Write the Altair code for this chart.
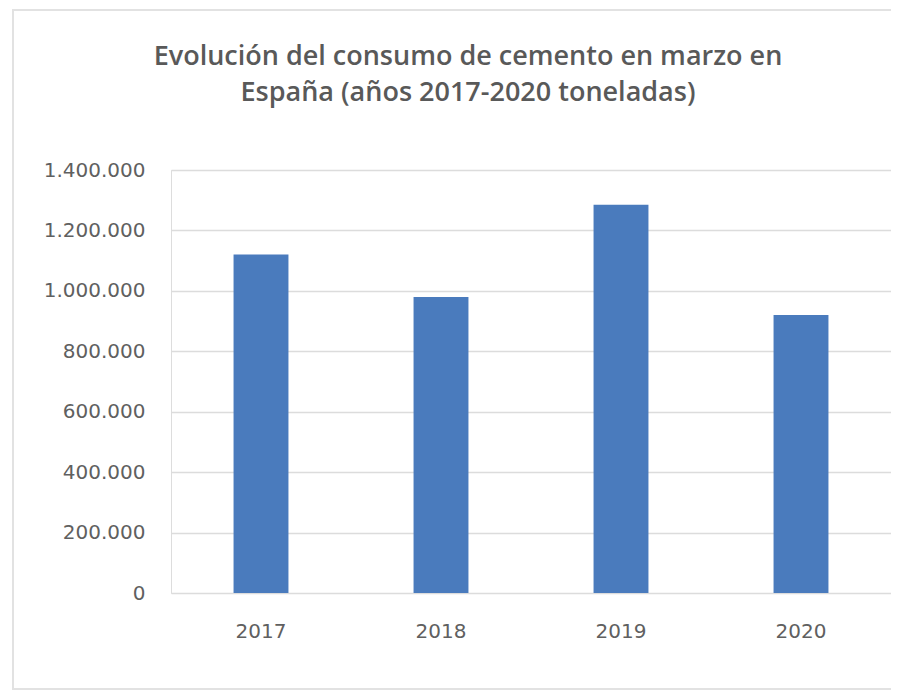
import altair as alt
import pandas as pd

years = ["2017", "2018", "2019", "2020"]
consumo = [1120000, 980000, 1285000, 920000]
y_ticks = [0, 200000, 400000, 600000, 800000, 1000000, 1200000, 1400000]
title_line1 = "Evolución del consumo de cemento en marzo en"
title_line2 = "España (años 2017-2020 toneladas)"

df = pd.DataFrame({"year": years, "value": consumo})

W, H = 720, 423

frame = alt.Chart(pd.DataFrame({"k": [0]})).mark_rect(
    fill=None, stroke="#e2e2e2", strokeWidth=2, clip=False
).encode(
    x=alt.value(-158), x2=alt.value(W + 30),
    y=alt.value(-160), y2=alt.value(H + 96),
)

def title_text(txt, ypos):
    return alt.Chart(pd.DataFrame({"t": [txt]})).mark_text(
        font="Open Sans", fontSize=27, fontWeight=600, color="#595959", align="center",
        baseline="alphabetic", clip=False
    ).encode(text="t:N", x=alt.value(297), y=alt.value(ypos))

t1 = title_text(title_line1, -105)
t2 = title_text(title_line2, -69)

bars = alt.Chart(df).mark_bar(color="#4a7bbd").encode(
    x=alt.X("year:N", sort=years,
            scale=alt.Scale(paddingInner=0.695, paddingOuter=0.3475),
            axis=alt.Axis(title=None, labelAngle=0, domain=False, ticks=False,
                          labelPadding=28, labelFont="DejaVu Sans", labelFontSize=20,
                          labelColor="#606060")),
    y=alt.Y("value:Q",
            scale=alt.Scale(domain=[0, 1400000], nice=False),
            axis=alt.Axis(title=None, values=y_ticks, domain=False, ticks=False,
                          labelPadding=26, labelFont="DejaVu Sans", labelFontSize=20,
                          labelColor="#606060", gridColor="#dcdcdc", gridWidth=1.5,
                          labelExpr="replace(replace(format(datum.value, ','), ',', '.'), ',', '.')")),
)

chart = alt.layer(frame, bars, t1, t2).properties(
    width=W, height=H,
    autosize=alt.AutoSizeParams(type="none"),
    padding={"left": 163, "top": 162, "right": 0, "bottom": 98},
).configure_view(stroke=None).configure(background="white")

chart.save("out.html", embed_options={"renderer": "svg", "actions": False})
